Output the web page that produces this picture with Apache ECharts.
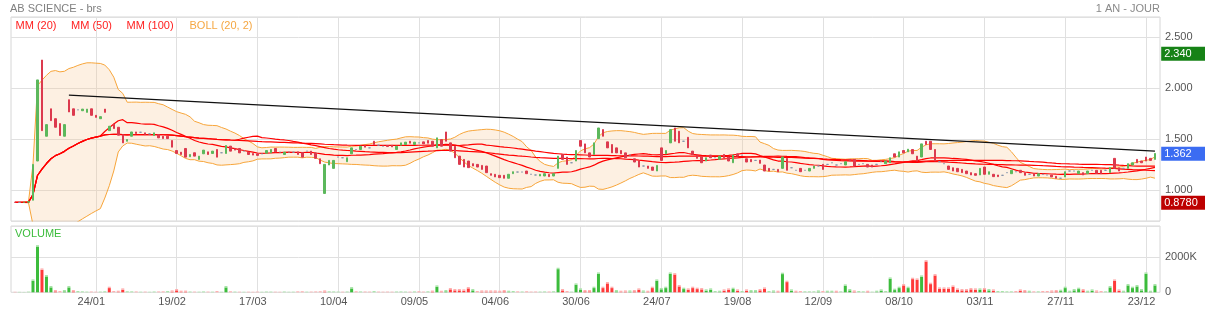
<!DOCTYPE html>
<html><head><meta charset="utf-8">
<script src="https://cdn.jsdelivr.net/npm/echarts@6/dist/echarts.min.js"></script>
<style>html,body{margin:0;padding:0;background:#fff}#c{width:1205px;height:313px}</style>
</head><body><div id="c"></div>
<script>
// Trading calendar (Euronext Paris)
const firstDay = '2024-12-30';
const holidays = ['2025-01-01','2025-04-18','2025-04-21','2025-05-01','2025-12-25','2025-12-26'];
const tickLabels = ['24/01','19/02','17/03','10/04','09/05','04/06','30/06','24/07','19/08','12/09','08/10','03/11','27/11','23/12'];

// [open, close, low, high]
const candles = [
[0.885,0.882,0.878,0.905],[0.882,0.882,0.879,0.888],[0.882,0.884,0.880,0.890],[0.884,0.890,0.880,0.895],
[0.904,1.255,0.900,1.304],[1.288,2.083,1.270,2.255],[2.278,1.586,1.515,2.340],[1.531,1.645,1.520,1.937],
[1.800,1.684,1.661,1.863],[1.703,1.619,1.586,1.710],[1.655,1.538,1.499,1.660],[1.531,1.645,1.456,1.650],
[1.889,1.769,1.760,1.931],[1.800,1.736,1.651,1.810],[1.790,1.790,1.759,1.833],[1.781,1.797,1.775,1.800],
[1.765,1.797,1.760,1.800],[1.800,1.736,1.730,1.805],
// 24/01
[1.736,1.716,1.712,1.740],[1.703,1.723,1.700,1.726],[1.797,1.765,1.736,1.800],[1.586,1.629,1.515,1.684],
[1.651,1.606,1.600,1.684],[1.619,1.541,1.530,1.625],[1.547,1.466,1.400,1.550],[1.482,1.499,1.470,1.505],
[1.531,1.573,1.525,1.580],[1.573,1.557,1.550,1.578],[1.570,1.570,1.560,1.576],[1.564,1.547,1.540,1.568],
[1.554,1.554,1.548,1.560],[1.538,1.564,1.532,1.568],[1.547,1.515,1.510,1.552],[1.531,1.508,1.502,1.536],
[1.531,1.508,1.500,1.535],[1.489,1.424,1.411,1.492],
// 19/02
[1.391,1.362,1.304,1.395],[1.375,1.352,1.345,1.380],[1.411,1.326,1.320,1.415],[1.330,1.352,1.325,1.356],
[1.369,1.336,1.330,1.372],[1.304,1.336,1.300,1.340],[1.359,1.395,1.355,1.400],[1.378,1.352,1.347,1.382],
[1.362,1.385,1.358,1.389],[1.401,1.326,1.320,1.405],[1.369,1.369,1.360,1.378],[1.362,1.440,1.356,1.645],
[1.434,1.385,1.378,1.440],[1.411,1.395,1.390,1.415],[1.411,1.368,1.362,1.415],[1.385,1.385,1.378,1.392],
[1.375,1.352,1.346,1.378],[1.362,1.346,1.340,1.366],
// 17/03
[1.359,1.343,1.338,1.362],[1.359,1.359,1.352,1.365],[1.365,1.391,1.360,1.417],[1.368,1.401,1.362,1.405],
[1.411,1.378,1.372,1.415],[1.375,1.375,1.368,1.382],[1.352,1.375,1.348,1.378],[1.375,1.375,1.369,1.381],
[1.375,1.375,1.368,1.382],[1.378,1.352,1.346,1.382],[1.372,1.326,1.320,1.376],[1.385,1.385,1.352,1.417],
[1.385,1.352,1.346,1.390],[1.368,1.314,1.308,1.372],[1.310,1.262,1.229,1.315],[0.970,1.255,0.963,1.262],
[1.249,1.294,1.216,1.320],[1.216,1.294,1.210,1.298],
// 10/04
[1.327,1.327,1.318,1.335],[1.320,1.320,1.312,1.328],[1.281,1.320,1.276,1.325],[1.359,1.417,1.354,1.570],
[1.401,1.401,1.352,1.433],[1.401,1.433,1.396,1.437],[1.440,1.424,1.419,1.444],[1.417,1.417,1.401,1.456],
[1.482,1.450,1.445,1.486],[1.443,1.443,1.385,1.466],[1.433,1.433,1.426,1.440],[1.440,1.430,1.425,1.444],
[1.443,1.427,1.422,1.447],[1.401,1.433,1.396,1.437],[1.443,1.466,1.438,1.470],[1.450,1.473,1.445,1.477],
[1.482,1.463,1.458,1.486],[1.450,1.473,1.445,1.477],
// 09/05
[1.466,1.466,1.458,1.474],[1.476,1.456,1.451,1.480],[1.489,1.463,1.458,1.493],[1.482,1.433,1.428,1.486],
[1.417,1.515,1.412,1.677],[1.498,1.433,1.428,1.502],[1.573,1.482,1.477,1.586],[1.466,1.385,1.380,1.470],
[1.433,1.320,1.315,1.437],[1.336,1.255,1.250,1.340],[1.304,1.229,1.224,1.308],[1.288,1.223,1.218,1.292],
[1.262,1.239,1.234,1.266],[1.255,1.229,1.224,1.259],[1.245,1.206,1.201,1.249],[1.239,1.174,1.169,1.243],
[1.164,1.148,1.143,1.168],[1.158,1.132,1.127,1.162],
// 04/06
[1.148,1.125,1.120,1.152],[1.148,1.119,1.114,1.152],[1.119,1.158,1.114,1.162],[1.164,1.183,1.159,1.187],
[1.180,1.180,1.174,1.186],[1.180,1.180,1.174,1.186],[1.190,1.164,1.159,1.194],[1.158,1.158,1.152,1.164],
[1.151,1.151,1.145,1.157],[1.141,1.158,1.136,1.162],[1.141,1.164,1.136,1.168],[1.158,1.135,1.130,1.162],
[1.141,1.164,1.136,1.168],[1.216,1.336,1.211,1.563],[1.352,1.304,1.255,1.417],[1.327,1.255,1.250,1.331],
[1.271,1.271,1.262,1.280],[1.288,1.391,1.283,1.498],
// 30/06
[1.489,1.433,1.428,1.493],[1.456,1.368,1.363,1.460],[1.368,1.327,1.322,1.372],[1.352,1.466,1.347,1.470],
[1.508,1.612,1.503,1.710],[1.596,1.531,1.526,1.620],[1.476,1.417,1.412,1.480],[1.450,1.368,1.363,1.454],
[1.417,1.368,1.363,1.421],[1.391,1.359,1.354,1.395],[1.368,1.320,1.315,1.372],[1.346,1.346,1.338,1.354],
[1.310,1.278,1.273,1.314],[1.288,1.229,1.224,1.292],[1.239,1.239,1.232,1.246],[1.239,1.216,1.211,1.243],
[1.229,1.197,1.192,1.233],[1.190,1.245,1.185,1.249],
// 24/07
[1.417,1.294,1.289,1.482],[1.359,1.391,1.354,1.395],[1.466,1.596,1.461,1.716],[1.612,1.482,1.477,1.684],
[1.580,1.466,1.461,1.584],[1.482,1.482,1.450,1.531],[1.521,1.417,1.412,1.525],[1.385,1.352,1.347,1.389],
[1.346,1.314,1.309,1.350],[1.327,1.271,1.266,1.331],[1.288,1.320,1.283,1.324],[1.346,1.320,1.315,1.350],
[1.320,1.320,1.312,1.328],[1.304,1.336,1.299,1.340],[1.352,1.320,1.315,1.356],[1.327,1.288,1.283,1.331],
[1.271,1.346,1.266,1.350],[1.359,1.336,1.331,1.385],
// 19/08
[1.346,1.346,1.338,1.354],[1.310,1.278,1.273,1.314],[1.304,1.281,1.276,1.308],[1.294,1.294,1.286,1.302],
[1.297,1.265,1.260,1.301],[1.249,1.190,1.185,1.253],[1.216,1.190,1.185,1.220],[1.206,1.206,1.198,1.214],
[1.206,1.183,1.178,1.210],[1.216,1.327,1.211,1.369],[1.314,1.197,1.192,1.318],[1.222,1.222,1.214,1.230],
[1.197,1.197,1.190,1.204],[1.216,1.183,1.178,1.220],[1.197,1.197,1.190,1.204],[1.190,1.216,1.185,1.220],
[1.216,1.239,1.211,1.243],[1.239,1.239,1.232,1.246],
// 12/09
[1.255,1.206,1.201,1.259],[1.255,1.255,1.248,1.262],[1.271,1.271,1.262,1.304],[1.249,1.249,1.242,1.256],
[1.262,1.262,1.255,1.269],[1.249,1.281,1.244,1.285],[1.304,1.288,1.283,1.327],[1.304,1.239,1.234,1.308],
[1.255,1.255,1.248,1.262],[1.262,1.262,1.255,1.269],[1.255,1.229,1.224,1.259],[1.249,1.229,1.224,1.253],
[1.255,1.255,1.248,1.262],[1.281,1.281,1.274,1.320],[1.262,1.288,1.257,1.292],[1.271,1.320,1.266,1.368],
[1.359,1.327,1.322,1.385],[1.327,1.378,1.322,1.382],
// 08/10
[1.391,1.368,1.363,1.433],[1.378,1.404,1.373,1.408],[1.401,1.359,1.354,1.508],[1.336,1.288,1.283,1.340],
[1.327,1.456,1.322,1.460],[1.482,1.450,1.445,1.671],[1.482,1.401,1.396,1.531],[1.401,1.288,1.283,1.405],
[1.281,1.281,1.262,1.320],[1.262,1.262,1.255,1.270],[1.239,1.206,1.201,1.243],[1.222,1.190,1.185,1.226],
[1.216,1.183,1.178,1.220],[1.206,1.174,1.169,1.210],[1.190,1.164,1.159,1.194],[1.174,1.151,1.146,1.178],
[1.164,1.148,1.143,1.168],[1.151,1.216,1.146,1.220],
// 03/11
[1.229,1.158,1.153,1.233],[1.158,1.183,1.153,1.187],[1.158,1.135,1.130,1.162],[1.151,1.135,1.130,1.155],
[1.148,1.148,1.125,1.172],[1.174,1.174,1.167,1.181],[1.164,1.197,1.159,1.201],[1.183,1.183,1.176,1.190],
[1.197,1.174,1.169,1.201],[1.174,1.148,1.143,1.178],[1.158,1.158,1.151,1.165],[1.164,1.141,1.136,1.168],
[1.141,1.164,1.136,1.168],[1.158,1.158,1.151,1.165],[1.151,1.151,1.144,1.158],[1.151,1.132,1.127,1.155],
[1.138,1.119,1.114,1.142],[1.119,1.119,1.112,1.126],
// 27/11
[1.132,1.183,1.127,1.187],[1.190,1.190,1.183,1.197],[1.190,1.190,1.183,1.197],[1.164,1.190,1.159,1.194],
[1.174,1.151,1.146,1.178],[1.164,1.190,1.159,1.194],[1.197,1.197,1.190,1.204],[1.197,1.167,1.162,1.201],
[1.197,1.164,1.159,1.201],[1.197,1.197,1.190,1.204],[1.174,1.222,1.169,1.226],[1.314,1.216,1.211,1.318],
[1.222,1.190,1.185,1.226],[1.216,1.216,1.208,1.262],[1.216,1.262,1.211,1.304],[1.249,1.271,1.244,1.275],
[1.304,1.271,1.266,1.308],[1.288,1.271,1.266,1.292],
// 23/12
[1.327,1.288,1.283,1.390],[1.314,1.294,1.289,1.318],[1.304,1.362,1.299,1.400]
];

// volume, thousands of shares
const volumes = [
30,25,20,40,741,2703,1370,989,360,131,74,131,360,131,74,55,40,45,
35,40,60,322,74,93,227,60,55,50,35,40,30,45,50,55,70,110,
190,95,100,45,40,35,50,40,35,75,30,360,60,40,35,30,35,30,
40,30,45,40,35,30,45,30,35,55,60,35,40,50,60,110,55,50,
40,35,45,300,60,50,45,40,70,40,35,40,35,45,50,40,35,50,
60,40,55,100,398,90,131,246,190,190,170,303,190,74,110,110,110,110,
93,131,93,74,55,45,60,40,45,40,50,45,60,1408,189,74,35,512,
227,131,131,322,1141,322,589,322,131,93,110,110,131,227,110,93,322,741,
250,322,1141,1100,417,265,227,322,265,246,170,227,74,93,170,227,265,170,
74,170,131,131,189,284,74,110,93,1124,665,170,93,74,55,55,55,110,
74,93,93,93,55,455,189,110,74,55,93,35,93,170,74,855,208,322,
474,322,836,798,970,1846,550,1046,284,284,284,398,227,189,189,246,227,227,
246,189,170,74,74,55,55,74,170,131,93,55,55,74,74,110,131,150,
322,93,189,265,189,93,170,110,74,55,360,741,170,93,474,322,417,189,
1141,93,474
];

// trendline drawn on the chart: [index, price]
const trendStart = [12, 1.935];
const trendEnd = [254, 1.385];

const priceMin = 0.7, priceMax = 2.7, volMax = 3800;

// ---- derived ----
function tradingDays(start, count) {
  const out = []; const d = new Date(start + 'T12:00:00Z');
  while (out.length < count) {
    const dow = d.getUTCDay(); const iso = d.toISOString().slice(0, 10);
    if (dow !== 0 && dow !== 6 && holidays.indexOf(iso) < 0) out.push(iso.slice(8, 10) + '/' + iso.slice(5, 7));
    d.setUTCDate(d.getUTCDate() + 1);
  }
  return out;
}
const categories = tradingDays(firstDay, candles.length);
const closes = candles.map(c => c[1]);
function movingAverage(vals, n) {
  return vals.map((_, i) => { const s = Math.max(0, i - n + 1); let sum = 0; for (let k = s; k <= i; k++) sum += vals[k]; return +(sum / (i - s + 1)).toFixed(4); });
}
function bollinger(vals, n, k) {
  const up = [], lo = [];
  vals.forEach((_, i) => {
    const s = Math.max(0, i - n + 1); const w = vals.slice(s, i + 1);
    const m = w.reduce((a, b) => a + b, 0) / w.length;
    const sd = Math.sqrt(w.reduce((a, b) => a + (b - m) * (b - m), 0) / w.length);
    up.push(+(m + k * sd).toFixed(4)); lo.push(+(m - k * sd).toFixed(4));
  });
  return { up, lo };
}
const ma20 = movingAverage(closes, 20), ma50 = movingAverage(closes, 50), ma100 = movingAverage(closes, 100);
const boll = bollinger(closes, 20, 2);
const maxHigh = Math.max(...candles.map(c => c[3]));
const minLow = Math.min(...candles.map(c => c[2]));
const lastClose = closes[closes.length - 1];
const volUp = volumes.map((v, i) => closes[i] >= (i ? closes[i - 1] : candles[0][0]));

const GREEN = '#5cb85c', RED = '#dc3a4e', WICK = '#8393aa';
const VGREEN = '#3cbc3c', VRED = '#ff3a3a', VGREEN_L = '#a8e4a8', VRED_L = '#ffb0b0';
const GRID = '#e0e0e0';
const FONT = 'Arial, "Liberation Sans", sans-serif';
const isTick = (i, v) => tickLabels.indexOf(v) >= 0;

const frameLeft = 11, frameRight = 45;
const dataLeft = 12.8, dataRight = 47.8;
const pTop = 17, pH = 204, vTop = 226, vH = 66.3;
const capK = 1.4 * volMax / vH; // light top cap of each volume bar (~1.4 px)

const chart = echarts.init(document.getElementById('c'), null, { renderer: 'canvas' });
const tag = (val, txt, bg) => ({ yAxis: val, lineStyle: { color: 'rgba(0,0,0,0)', width: 1, opacity: 1 },
  label: { show: true, position: 'end', distance: 4, formatter: txt, backgroundColor: bg, color: '#fff', opacity: 1,
    fontSize: 11, fontFamily: FONT, padding: [2, 14, 1, 3] } });

chart.setOption({
  animation: false,
  textStyle: { fontFamily: FONT },
  grid: [
    { left: frameLeft, right: frameRight, top: pTop, height: pH, show: true, borderColor: '#d6d6d6', borderWidth: 1 },
    { left: dataLeft, right: dataRight, top: pTop, height: pH },
    { left: frameLeft, right: frameRight, top: vTop, height: vH, show: true, borderColor: '#d6d6d6', borderWidth: 1 },
    { left: dataLeft, right: dataRight, top: vTop, height: vH }
  ],
  xAxis: [
    { gridIndex: 0, type: 'value', show: false },
    { gridIndex: 1, type: 'category', data: categories, boundaryGap: true,
      axisLine: { show: false }, axisTick: { show: false }, axisLabel: { show: false },
      splitLine: { show: true, interval: isTick, alignWithLabel: true, lineStyle: { color: GRID, width: 1 } } },
    { gridIndex: 2, type: 'value', show: false },
    { gridIndex: 3, type: 'category', data: categories, boundaryGap: true,
      axisLine: { show: false }, axisTick: { show: false },
      axisLabel: { show: true, interval: isTick, color: '#555', fontSize: 11, margin: 4, padding: [0, 9, 0, 0] },
      splitLine: { show: true, interval: isTick, alignWithLabel: true, lineStyle: { color: GRID, width: 1 } } }
  ],
  yAxis: [
    { gridIndex: 0, type: 'value', position: 'right', min: priceMin, max: priceMax, minInterval: 0.5, maxInterval: 0.5,
      axisLine: { show: false }, axisTick: { show: false },
      axisLabel: { color: '#555', fontSize: 11, margin: 5, showMinLabel: false, showMaxLabel: false, formatter: v => v.toFixed(3) },
      splitLine: { show: true, lineStyle: { color: GRID, width: 1 } } },
    { gridIndex: 1, type: 'value', min: priceMin, max: priceMax, show: false },
    { gridIndex: 2, type: 'value', position: 'right', min: 0, max: volMax, minInterval: 2000, maxInterval: 2000,
      axisLine: { show: false }, axisTick: { show: false },
      axisLabel: { color: '#555', fontSize: 11, margin: 5, showMaxLabel: false, formatter: v => v === 0 ? '0' : v + 'K' },
      splitLine: { show: true, lineStyle: { color: GRID, width: 1 } } },
    { gridIndex: 3, type: 'value', min: 0, max: volMax, show: false }
  ],
  graphic: [
    { type: 'text', x: 10, y: 9, style: { text: 'AB SCIENCE - brs', fill: '#808080', font: '11px ' + FONT, align: 'left', verticalAlign: 'middle' } },
    { type: 'text', x: 1160, y: 9, style: { text: '1 AN - JOUR', fill: '#8a8a8a', font: '11px ' + FONT, align: 'right', verticalAlign: 'middle' } },
    { type: 'text', x: 15.5, y: 26, style: { text: 'MM (20)', fill: '#ff2020', font: '11px ' + FONT, verticalAlign: 'middle' } },
    { type: 'text', x: 71, y: 26, style: { text: 'MM (50)', fill: '#ff2020', font: '11px ' + FONT, verticalAlign: 'middle' } },
    { type: 'text', x: 126.5, y: 26, style: { text: 'MM (100)', fill: '#ff2020', font: '11px ' + FONT, verticalAlign: 'middle' } },
    { type: 'text', x: 189.5, y: 26, style: { text: 'BOLL (20, 2)', fill: '#f5a742', font: '11px ' + FONT, verticalAlign: 'middle' } },
    { type: 'text', x: 15, y: 234, style: { text: 'VOLUME', fill: '#3cbc3c', font: '11px ' + FONT, verticalAlign: 'middle' } }
  ],
  series: [
    { name: 'BOLL low', type: 'line', xAxisIndex: 1, yAxisIndex: 1, data: boll.lo, stack: 'boll', stackStrategy: 'all',
      symbol: 'none', lineStyle: { color: '#f7a53a', width: 1 }, z: 1, silent: true },
    { name: 'BOLL band', type: 'line', xAxisIndex: 1, yAxisIndex: 1, data: boll.up.map((u, i) => +(u - boll.lo[i]).toFixed(4)),
      stack: 'boll', stackStrategy: 'all', symbol: 'none', lineStyle: { color: '#f7a53a', width: 1 },
      areaStyle: { color: 'rgba(249,196,138,0.36)' }, z: 1, silent: true },
    { name: 'MM (100)', type: 'line', xAxisIndex: 1, yAxisIndex: 1, data: ma100, symbol: 'none', lineStyle: { color: '#ff0000', width: 1.2 }, z: 3, silent: true },
    { name: 'MM (50)', type: 'line', xAxisIndex: 1, yAxisIndex: 1, data: ma50, symbol: 'none', lineStyle: { color: '#ff0000', width: 1.2 }, z: 3, silent: true },
    { name: 'MM (20)', type: 'line', xAxisIndex: 1, yAxisIndex: 1, data: ma20, symbol: 'none', lineStyle: { color: '#ff0000', width: 1.2 }, z: 3, silent: true },
    { name: 'wicks', type: 'candlestick', xAxisIndex: 1, yAxisIndex: 1, barWidth: 1, clip: false,
      data: candles.map(c => [c[2], c[3], c[2], c[3]]),
      itemStyle: { color: WICK, color0: WICK, borderColor: WICK, borderColor0: WICK, borderWidth: 0 }, z: 4, silent: true,
      markLine: { silent: true, symbol: ['none', 'none'], animation: false,
        data: [
          tag(maxHigh, maxHigh.toFixed(3), '#168216'),
          tag(lastClose, lastClose.toFixed(3), '#3b6cf2'),
          tag(minLow, minLow.toFixed(4), '#bd0000')
        ] } },
    { name: 'AB SCIENCE', type: 'candlestick', xAxisIndex: 1, yAxisIndex: 1, barWidth: 2,
      data: candles.map(c => [c[0], c[1], Math.min(c[0], c[1]), Math.max(c[0], c[1])]),
      itemStyle: { color: GREEN, color0: RED, borderColor: GREEN, borderColor0: RED, borderColorDoji: WICK, borderWidth: 1 }, z: 5,
      markLine: { silent: true, symbol: ['none', 'none'], animation: false,
        data: [
          [{ coord: [categories[trendStart[0]], trendStart[1]] }, { coord: [categories[trendEnd[0]], trendEnd[1]] }]
        ],
        lineStyle: { color: '#111', width: 1.2, type: 'solid' },
        label: { show: false } } },
    { name: 'VOLUME', type: 'bar', xAxisIndex: 3, yAxisIndex: 3, barWidth: 3, stack: 'vol', z: 3, silent: true,
      data: volumes.map((v, i) => ({ value: Math.max(v - capK, 0), itemStyle: { color: volUp[i] ? VGREEN : VRED } })) },
    { name: 'VOLUME cap', type: 'bar', xAxisIndex: 3, yAxisIndex: 3, barWidth: 3, stack: 'vol', z: 3, silent: true,
      data: volumes.map((v, i) => ({ value: Math.min(v, capK), itemStyle: { color: volUp[i] ? VGREEN_L : VRED_L } })) }
  ]
});
</script></body></html>
